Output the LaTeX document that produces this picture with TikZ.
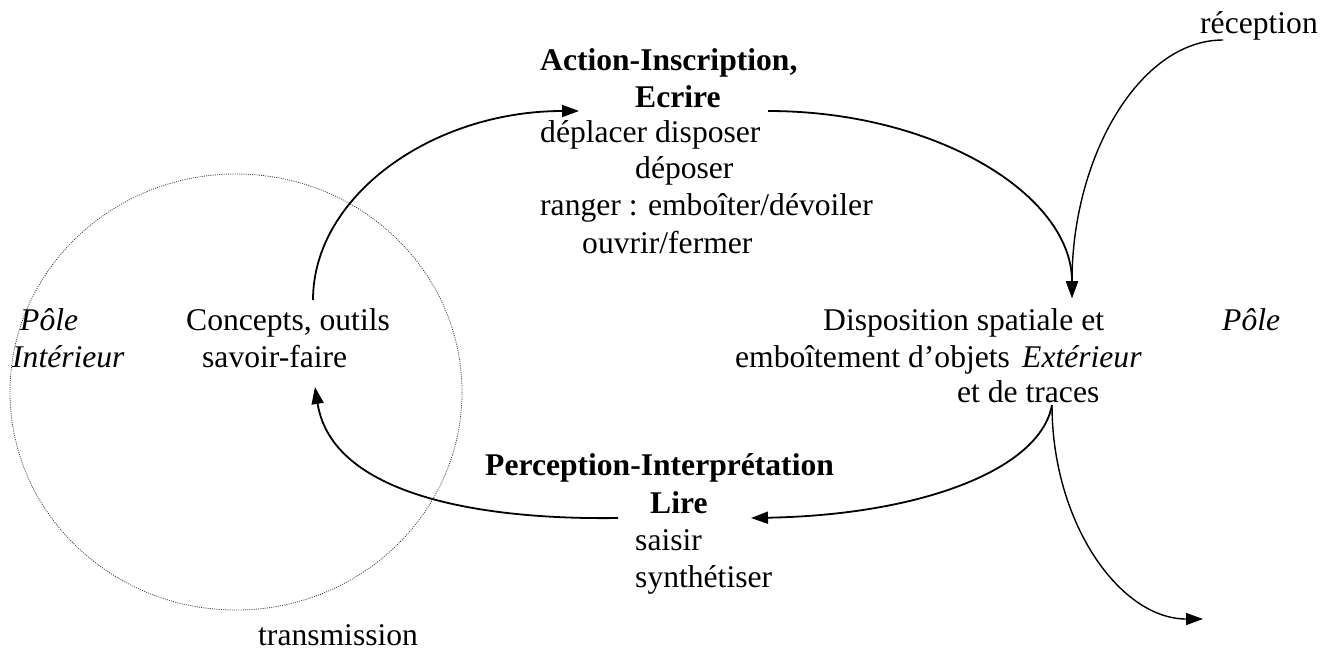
\documentclass[tikz,border=0pt]{standalone}
\usepackage{fontspec}
\setmainfont{Liberation Serif}
\usetikzlibrary{arrows.meta}
\begin{document}
\begin{tikzpicture}[x=1pt,y=-1pt,
  txt/.style={inner sep=0pt, anchor=base west, font=\fontsize{31.6}{37}\selectfont},
  bold/.style={txt, font=\fontsize{31.6}{37}\selectfont\bfseries},
  ital/.style={txt, font=\fontsize{31.6}{37}\selectfont\itshape},
  conn/.style={line width=1.8pt, -{Triangle[length=17pt,width=12pt]}},
  thin/.style={line width=1.4pt, -{Triangle[length=17pt,width=12pt]}},
  pole/.style={draw=black!75, line width=0.8pt, dash pattern=on 1pt off 1.2pt}]
\useasboundingbox (0,0) rectangle (1332,662);

% dotted circle
\draw[pole] (236,392) ellipse [x radius=226, y radius=218];

% texts
\node[bold] (act) at (540,70) {Action-Inscription,};
\node[bold] (ecr) at (635,107) {Ecrire};
\node[txt] (dep) at (540,142) {déplacer disposer};
\node[txt] (depo) at (635,178) {déposer};
\node[txt] (ran) at (540,215) {ranger : emboîter/dévoiler};
\node[txt] (ouv) at (582,253) {ouvrir/fermer};
\node[txt] (rec) at (1200,33) {réception};
\node[ital] (pl) at (20,330) {Pôle};
\node[ital] (intr) at (12,367) {Intérieur};
\node[txt] (conc) at (186,330) {Concepts, outils};
\node[txt] (sav) at (202,367) {savoir-faire};
\node[txt] (disp) at (823,330) {Disposition spatiale et};
\node[ital] (pr) at (1222,330) {Pôle};
\node[txt] (emb) at (735,367) {emboîtement d’objets};
\node[ital] (ext) at (1022,367) {Extérieur};
\node[txt] (trac) at (957,402) {et de traces};
\node[bold] (perc) at (485,475) {Perception-Interprétation};
\node[bold] (lire) at (650,513) {Lire};
\node[txt] (sai) at (635,550) {saisir};
\node[txt] (syn) at (635,587) {synthétiser};
\node[txt] (tra) at (258,645) {transmission};

% connector end points
\coordinate (c1) at (313,300);
\coordinate (c2) at (579,111);
\coordinate (c3) at (768,111);
\coordinate (c4) at (1072,298);
\coordinate (c5) at (1223,40);
\coordinate (c6) at (1052,405);
\coordinate (c7) at (751,518);
\coordinate (c8) at (618,518);
\coordinate (c9) at (315,387);
\coordinate (c10) at (1203,619);

% connectors
\draw[conn] (c1) .. controls (313,196) and (432,111) .. (c2);
\draw[conn] (c3) .. controls (936,111) and (1072,195) .. (c4);
\draw[thin] (c5) .. controls (1140,40) and (1072,156) .. (c4);
\draw[conn] (c6) .. controls (1040,470) and (920,515) .. (c7);
\draw[conn] (c8) .. controls (480,520) and (332,495) .. (c9);
\draw[thin] (c6) .. controls (1052,523) and (1120,619) .. (c10);
\end{tikzpicture}
\end{document}
